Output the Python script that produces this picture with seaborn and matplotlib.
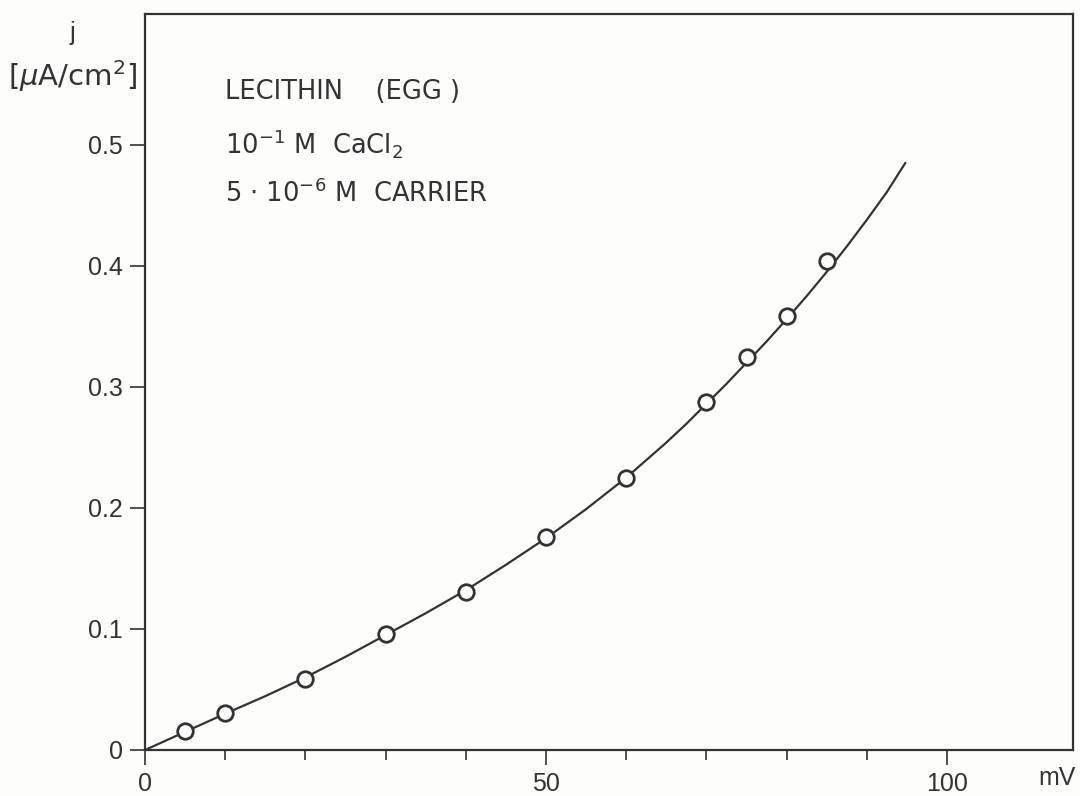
import matplotlib
matplotlib.use('Agg')

import numpy as np
import pandas as pd
import matplotlib.pyplot as plt
import seaborn as sns

# =========================
# DATA
# =========================
# measured points: voltage (mV) and current density (uA/cm2)
volt_pts = [5, 10, 20, 30, 40, 50, 60, 70, 75, 80, 85]
j_pts = [0.0157, 0.0306, 0.0587, 0.0959, 0.1306, 0.176, 0.225, 0.2876, 0.325, 0.3587, 0.404]

# drawn curve through the points
volt_curve = [0, 5, 10, 15, 20, 25, 30, 35, 40, 45, 50, 55, 60, 62.5, 65, 67.5, 70,
              72.5, 75, 77.5, 80, 82.5, 85, 87.5, 90, 92.5, 94.8]
j_curve = [0, 0.015, 0.030, 0.0445, 0.060, 0.077, 0.095, 0.113, 0.132, 0.153, 0.175,
           0.199, 0.225, 0.2395, 0.254, 0.2695, 0.286, 0.3025, 0.320, 0.3375, 0.356,
           0.375, 0.395, 0.416, 0.438, 0.461, 0.485]

x_major = [0, 50, 100]
x_minor = [10, 20, 30, 40, 60, 70, 80, 90]
y_ticks = [0, 0.1, 0.2, 0.3, 0.4, 0.5]
y_labels = ['0', '0.1', '0.2', '0.3', '0.4', '0.5']

pts = pd.DataFrame({'U': volt_pts, 'j': j_pts})
curve = pd.DataFrame({'U': volt_curve, 'j': j_curve})

# =========================
# STYLE
# =========================
sns.set_theme(style='ticks')
plt.rcParams['font.family'] = ['Liberation Sans', 'DejaVu Sans']
plt.rcParams['mathtext.fontset'] = 'custom'
plt.rcParams['mathtext.rm'] = 'DejaVu Sans'
plt.rcParams['mathtext.it'] = 'DejaVu Sans:italic'

ink = '#333333'
paper = '#fdfdfb'

fig = plt.figure(figsize=(10.8, 7.96), dpi=100, facecolor=paper)
ax = fig.add_axes([0.1343, 0.0578, 0.9935 - 0.1343, 0.9824 - 0.0578])
ax.set_facecolor(paper)

sns.lineplot(data=curve, x='U', y='j', ax=ax, color=ink, linewidth=1.6,
             sort=False, estimator=None, legend=False)
sns.scatterplot(data=pts, x='U', y='j', ax=ax, s=125, marker='o',
                facecolor=paper, edgecolor=ink, linewidth=2.0, zorder=3, legend=False)

ax.set_xlim(0, 115.7)
ax.set_ylim(0, 0.608)

ax.set_xticks(x_major)
ax.set_xticks(x_minor, minor=True)
ax.set_xticklabels(['0', '50', '100'])
ax.set_yticks(y_ticks)
ax.set_yticklabels(y_labels)

ax.tick_params(axis='x', which='major', direction='out', length=11, width=1.2,
               color=ink, labelsize=18, labelcolor=ink, pad=5)
ax.tick_params(axis='x', which='minor', direction='out', length=7, width=1.2, color=ink)
ax.tick_params(axis='y', which='major', direction='out', length=11, width=1.2,
               color=ink, labelsize=18, labelcolor=ink, pad=5)

for sp in ax.spines.values():
    sp.set_color(ink)
    sp.set_linewidth(1.6)

ax.set_xlabel('')
ax.set_ylabel('')

# axis units
fig.text(1057 / 1080, 1 - 778 / 796, 'mV', ha='center', va='center',
         fontsize=18, color=ink)
fig.text(72 / 1080, 1 - 33 / 796, 'j', ha='center', va='center',
         fontsize=18, color=ink)
fig.text(72 / 1080, 1 - 76 / 796, r'[$\mathit{\mu}$A/cm$^2$]', ha='center', va='center',
         fontsize=21, color=ink, family=['DejaVu Sans'])

# conditions
note_font = dict(ha='left', va='center', fontsize=18.5, color=ink,
                 family=['DejaVu Sans'], transform=fig.transFigure)
ax.text(225 / 1080, 1 - 92 / 796, 'LECITHIN    (EGG )', **note_font)
ax.text(225 / 1080, 1 - 143 / 796, r'10$^{-1}$ M  CaCl$_2$', **note_font)
ax.text(225 / 1080, 1 - 194 / 796, r'5 $\cdot$ 10$^{-6}$ M  CARRIER', **note_font)

plt.savefig('out.png', dpi=100, facecolor=paper)
print('Saved: out.png')
